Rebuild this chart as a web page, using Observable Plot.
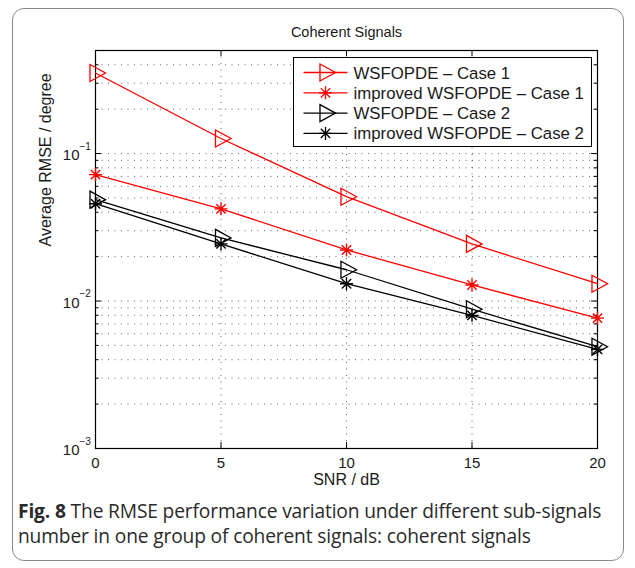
<!DOCTYPE html>
<html>
<head>
<meta charset="utf-8">
<script src="https://cdn.jsdelivr.net/npm/d3@7"></script>
<script src="https://cdn.jsdelivr.net/npm/@observablehq/plot@0.6"></script>
<style>
  html, body { margin: 0; padding: 0; background: #fff; }
  #page { position: relative; width: 635px; height: 568px; overflow: hidden; background: #fff; }
  #border { position: absolute; left: 12px; top: 8px; width: 610px; height: 551px; border: 1px solid #8a8a8a; border-radius: 12px; }
  #chart { position: absolute; left: 0; top: 0; }
  #legend { position: absolute; left: 0; top: 0; }
  #caption { position: absolute; left: 18px; top: 498px; width: 600px; font-family: "Open Sans", Lato, sans-serif; font-size: 19.2px; letter-spacing: -0.15px; line-height: 25px; color: #2a2a2a; }
  #caption b { font-weight: bold; }
</style>
</head>
<body>
<div id="page">
  <div id="border"></div>
  <div id="chart"></div>
  <div id="legend"></div>
  <div id="caption"><b>Fig. 8</b><span> The RMSE performance variation under different sub-signals number in one group of coherent signals: coherent signals</span></div>
</div>
<script>
// ---- data ----
const snr = [0, 5, 10, 15, 20];
const wsfopdeCase1 = [0.352, 0.1265, 0.051, 0.0244, 0.0131];
const improvedCase1 = [0.072, 0.0422, 0.0222, 0.01285, 0.00766];
const wsfopdeCase2 = [0.0487, 0.0268, 0.0163, 0.0088, 0.0049];
const improvedCase2 = [0.0457, 0.0244, 0.0131, 0.0080, 0.0047];
const seriesNames = ["WSFOPDE – Case 1", "improved WSFOPDE – Case 1", "WSFOPDE – Case 2", "improved WSFOPDE – Case 2"];
const seriesValues = [wsfopdeCase1, improvedCase1, wsfopdeCase2, improvedCase2];
const seriesColors = ["#ff0000", "#ff0000", "#000000", "#000000"];
const seriesMarkers = ["triangle", "star", "triangle", "star"];
const xTicks = [0, 5, 10, 15, 20];
const xGrid = [5, 10, 15];
const yDecades = [1e-3, 1e-2, 1e-1];
const yExponents = ["\u22123", "\u22122", "\u22121"];
const minorMultipliers = [2, 3, 4, 5, 6, 7, 8, 9];
const yMax = 0.5;
const titleText = "Coherent Signals";
const xLabel = "SNR / dB";
const yLabel = "Average RMSE / degree";

// ---- derived tables ----
const rows = [];
seriesNames.forEach((name, s) => {
  snr.forEach((x, i) => rows.push({series: name, marker: seriesMarkers[s], snr: x, rmse: seriesValues[s][i]}));
});
const yMinor = [];
yDecades.forEach(d => minorMultipliers.forEach(m => { if (d * m <= yMax) yMinor.push(d * m); }));
const yGridAll = yDecades.slice(1).concat(yMinor);

// ---- layout ----
const W = 635, H = 495;
const mL = 95, mR = 38, mT = 50, mB = 47;
const plotW = W - mL - mR, plotH = H - mT - mB;

// ---- custom symbols ----
const triangleSym = {
  draw(ctx, size) {
    const r = Math.sqrt(size / Math.PI);
    ctx.moveTo(-0.65 * r, -r);
    ctx.lineTo(1.18 * r, 0);
    ctx.lineTo(-0.65 * r, r);
    ctx.closePath();
  }
};
const starSym = {
  draw(ctx, size) {
    const r = Math.sqrt(size / Math.PI);
    const d = r * 0.72;
    ctx.moveTo(0, -r); ctx.lineTo(0, r);
    ctx.moveTo(-r, 0); ctx.lineTo(r, 0);
    ctx.moveTo(-d, -d); ctx.lineTo(d, d);
    ctx.moveTo(-d, d); ctx.lineTo(d, -d);
  }
};

const gridStyle = {stroke: "#222", strokeOpacity: 0.7, strokeWidth: 1, strokeDasharray: "1,5.5"};
const font = "'Liberation Sans', Arial, Helvetica, sans-serif";

const chart = Plot.plot({
  width: W, height: H,
  marginLeft: mL, marginRight: mR, marginTop: mT, marginBottom: mB,
  style: {fontFamily: font, fontSize: "15px", color: "#1a1a1a", background: "transparent"},
  x: {domain: [0, 20]},
  y: {type: "log", domain: [yDecades[0], yMax], axis: null},
  color: {domain: seriesNames, range: seriesColors},
  marks: [
    Plot.ruleY(yGridAll, gridStyle),
    Plot.ruleX(xGrid, gridStyle),
    // inward ticks
    Plot.ruleY(yDecades, {stroke: "#000", insetRight: plotW - 6}),
    Plot.ruleY(yDecades, {stroke: "#000", insetLeft: plotW - 6}),
    Plot.ruleY(yMinor, {stroke: "#000", insetRight: plotW - 3.5}),
    Plot.ruleY(yMinor, {stroke: "#000", insetLeft: plotW - 3.5}),
    Plot.ruleX(xTicks, {stroke: "#000", insetTop: plotH - 6}),
    Plot.ruleX(xTicks, {stroke: "#000", insetBottom: plotH - 6}),
    Plot.frame({stroke: "#000", strokeWidth: 1.2}),
    Plot.line(rows, {x: "snr", y: "rmse", z: "series", stroke: "series", strokeWidth: 1.3}),
    Plot.dot(rows.filter(d => d.marker === "triangle"), {x: "snr", y: "rmse", stroke: "series", symbol: triangleSym, r: 8.5, fill: "none", strokeWidth: 1.3}),
    Plot.dot(rows.filter(d => d.marker === "star"), {x: "snr", y: "rmse", stroke: "series", symbol: starSym, r: 6.5, fill: "none", strokeWidth: 1.4}),
    Plot.axisX(xTicks, {tickSize: 0, tickPadding: 9, fontSize: 15, label: null}),
    Plot.text(yDecades, {frameAnchor: "left", y: d => d, text: () => "10", textAnchor: "end", dx: -16, dy: 2, fontSize: 15}),
    Plot.text(yDecades, {frameAnchor: "left", y: d => d, text: (d, i) => yExponents[i], textAnchor: "start", dx: -16, dy: -7, fontSize: 10}),
    Plot.text([xLabel], {frameAnchor: "bottom", lineAnchor: "middle", text: d => d, dy: 31, fontSize: 16}),
    Plot.text([yLabel], {frameAnchor: "left", lineAnchor: "middle", text: d => d, rotate: -90, dx: -50, dy: -3, fontSize: 16}),
    Plot.text([titleText], {frameAnchor: "top", lineAnchor: "middle", text: d => d, dy: -18, fontSize: 14.5})
  ]
});
document.getElementById("chart").appendChild(chart);

// ---- legend ----
const lg = d3.select("#legend").append("svg")
  .attr("width", W).attr("height", H)
  .style("font-family", font);
const box = {x: 293.5, y: 57.5, w: 298, h: 89};
lg.append("rect").attr("x", box.x).attr("y", box.y).attr("width", box.w).attr("height", box.h)
  .attr("fill", "#fff").attr("stroke", "#000").attr("stroke-width", 1);
seriesNames.forEach((name, i) => {
  const cy = box.y + 15 + i * 20.3;
  const g = lg.append("g");
  g.append("line").attr("x1", box.x + 10).attr("x2", box.x + 54).attr("y1", cy).attr("y2", cy)
    .attr("stroke", seriesColors[i]).attr("stroke-width", 1.3);
  const sym = seriesMarkers[i] === "triangle" ? triangleSym : starSym;
  const r = seriesMarkers[i] === "triangle" ? 8.5 : 6.5;
  g.append("path").attr("d", d3.symbol().type(sym).size(Math.PI * r * r)())
    .attr("transform", `translate(${box.x + 32},${cy})`)
    .attr("fill", "none").attr("stroke", seriesColors[i]).attr("stroke-width", 1.3);
  g.append("text").attr("x", box.x + 60).attr("y", cy).attr("dy", "0.36em")
    .attr("font-size", 16.8).attr("fill", "#1a1a1a").text(name);
});
</script>
</body>
</html>
